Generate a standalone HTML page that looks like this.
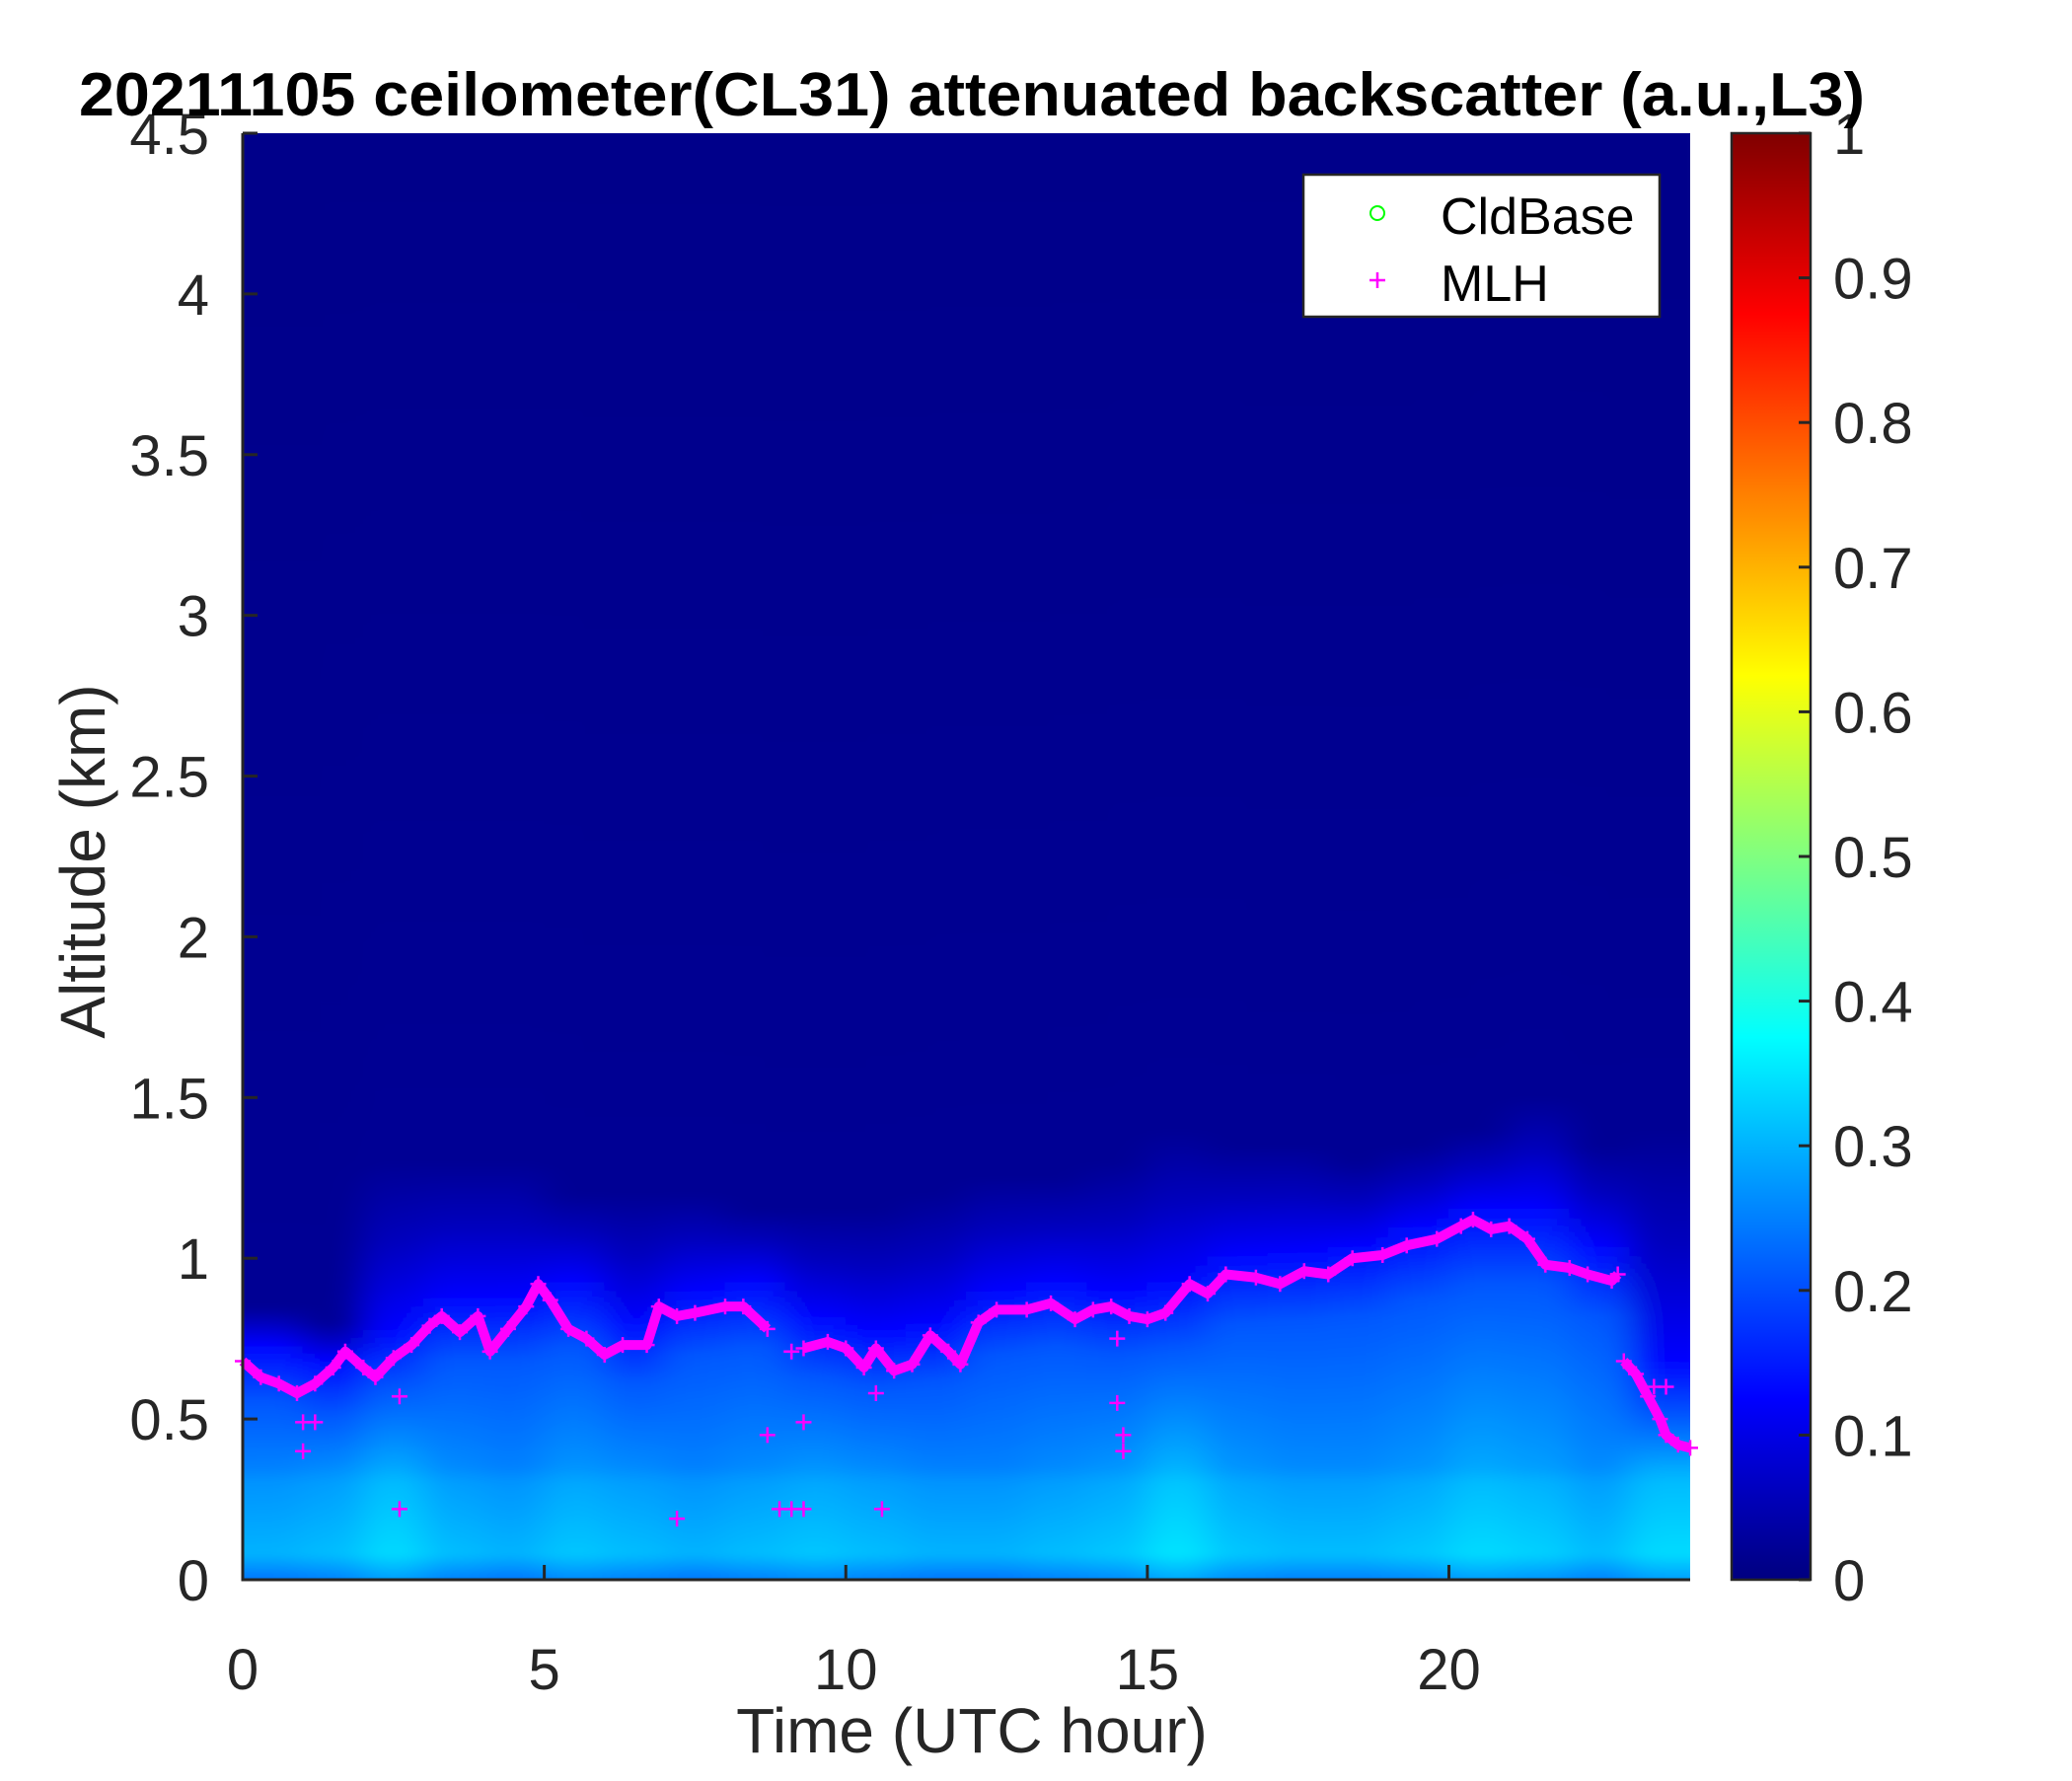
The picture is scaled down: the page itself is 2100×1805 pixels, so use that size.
<!DOCTYPE html>
<html><head><meta charset="utf-8"><style>
html,body{margin:0;padding:0;background:#fff;}
svg text{font-family:"Liberation Sans",Arial,sans-serif;}
</style></head><body>
<svg id="chart" width="2100" height="1800" viewBox="0 0 2100 1800" xmlns="http://www.w3.org/2000/svg">
<defs id="defs">
<filter id="blur" x="-5%" y="-5%" width="110%" height="110%"><feGaussianBlur stdDeviation="18 4"/></filter>
<clipPath id="plotclip"><rect x="246" y="135" width="1467" height="1466"/></clipPath>
</defs>
<g clip-path="url(#plotclip)"><g id="heat" filter="url(#blur)"></g></g>
<g id="marks"></g>
<g id="axes"></g>
</svg>
<script>
// ---- data ----
const hours = [0,1,2,3,4,5,6,7,8,9,10,11,12,13,14,15,16,17,18,19,20,21,22,23,24];
const surfVal = [0.30,0.31,0.34,0.31,0.30,0.32,0.31,0.30,0.31,0.32,0.31,0.30,0.30,0.31,0.32,0.35,0.32,0.31,0.31,0.32,0.34,0.33,0.31,0.34,0.35];
const bandTop = [0.65,0.6,0.7,0.8,0.8,0.85,0.72,0.82,0.85,0.74,0.7,0.72,0.82,0.85,0.82,0.85,0.93,0.94,0.96,1.02,1.08,1.08,0.96,0.6,0.42];
const topAlt = [0.85,0.8,1.3,1.3,1.3,1.2,1.2,1.2,1.15,1.15,1.15,1.2,1.25,1.25,1.3,1.4,1.35,1.35,1.3,1.35,1.4,1.5,1.35,1.4,1.5];
const mlhT = [0,0.3,0.6,0.9,1.2,1.5,1.7,2.0,2.2,2.5,2.8,3.1,3.3,3.6,3.9,4.1,4.4,4.7,4.9,5.1,5.4,5.7,6.0,6.3,6.7,6.9,7.2,7.5,8.0,8.3,8.7,9.3,9.7,10.0,10.3,10.5,10.8,11.1,11.4,11.7,11.9,12.2,12.5,13.0,13.4,13.8,14.1,14.4,14.7,15.0,15.3,15.7,16.0,16.3,16.8,17.2,17.6,18.0,18.4,18.9,19.3,19.8,20.2,20.4,20.7,21.0,21.3,21.6,22.0,22.3,22.7,22.8,22.9,23.1,23.3,23.5,23.6,23.8,24.0];
const mlhH = [0.68,0.63,0.61,0.58,0.61,0.66,0.71,0.66,0.63,0.69,0.73,0.79,0.82,0.77,0.82,0.71,0.78,0.85,0.92,0.87,0.78,0.75,0.70,0.73,0.73,0.85,0.82,0.83,0.85,0.85,0.78,0.72,0.74,0.72,0.66,0.72,0.65,0.67,0.76,0.71,0.67,0.80,0.84,0.84,0.86,0.81,0.84,0.85,0.82,0.81,0.83,0.92,0.89,0.95,0.94,0.92,0.96,0.95,1.00,1.01,1.04,1.06,1.10,1.12,1.09,1.10,1.06,0.98,0.97,0.95,0.93,0.95,0.68,0.64,0.57,0.50,0.45,0.42,0.41];
const mlhBreakAfter = [8.7, 22.8];
const strayT = [1.0,1.0,1.2,2.6,2.6,7.2,8.7,8.9,9.1,9.3,9.3,9.1,10.6,10.5,14.5,14.5,14.6,14.6,23.6,23.4];
const strayH = [0.40,0.49,0.49,0.22,0.57,0.19,0.45,0.22,0.22,0.22,0.49,0.71,0.22,0.58,0.55,0.75,0.40,0.45,0.60,0.60];
const xTicks = [0,5,10,15,20];
const yTicks = [0,0.5,1,1.5,2,2.5,3,3.5,4,4.5];
const cTicks = [0,0.1,0.2,0.3,0.4,0.5,0.6,0.7,0.8,0.9,1];

// ---- geometry ----
const L=246,R=1713,T=135,B=1601;
const X=h=>L+h/24*(R-L);
const Y=k=>B-k/4.5*(B-T);
const CL=1755,CR=1835;
const CY=v=>B-v*(B-T);
const NS="http://www.w3.org/2000/svg";
function jet(v){v=Math.max(0,Math.min(1,v));
 const f=x=>Math.round(255*Math.max(0,Math.min(1,x)));
 const r=f(Math.min(4*v-1.5,-4*v+4.5)),g=f(Math.min(4*v-0.5,-4*v+3.5)),b=f(Math.min(4*v+0.5,-4*v+2.5));
 return `rgb(${r},${g},${b})`;}
function mk(tag,attrs,parent){const e=document.createElementNS(NS,tag);for(const k in attrs)e.setAttribute(k,attrs[k]);parent.appendChild(e);return e;}
const defs=document.getElementById('defs'),heat=document.getElementById('heat'),marks=document.getElementById('marks'),axes=document.getElementById('axes');

const bg=mk('rect',{x:L-40,y:T-40,width:R-L+80,height:B-T+80,fill:jet(0.01)},heat);



for(let i=0;i<hours.length-1;i++){
 const id='g'+i;
 const g=mk('linearGradient',{id:id,gradientUnits:'userSpaceOnUse',x1:0,y1:B,x2:0,y2:T},defs);
 const s=surfVal[i],m=bandTop[i],t=topAlt[i];
 const stops=[[0,s-0.06],[0.08,s],[0.3,s-0.03],[0.35,s-0.05],[Math.max(0.4,m*0.85),0.21],[m+0.08,0.13],[(m+t)/2+0.05,0.06],[t,0.02],[4.5,0.01]];
 stops.forEach(([k,v])=>mk('stop',{offset:k/4.5,'stop-color':jet(v)},g));
 const x0=i==0?L-40:X(hours[i]);
 const x1=i==hours.length-2?R+40:X(hours[i+1]);
 const r=mk('rect',{x:x0-0.5,y:T,width:x1-x0+1,height:B-T+40,fill:`url(#${id})`},heat);
 
 
}

let seg=[];
function flush(){if(seg.length>1){const p=mk('polyline',{points:seg.join(' '),fill:'none',stroke:'#ff00ff','stroke-width':10,'stroke-linejoin':'round'},marks);
 
 }seg=[];}
mlhT.forEach((t,i)=>{seg.push(X(t)+','+Y(mlhH[i]));if(mlhBreakAfter.includes(t))flush();});
flush();
function plus(t,h){const x=X(t),y=Y(h);
 const p=mk('path',{d:`M${x-8},${y}H${x+8}M${x},${y-8}V${y+8}`,stroke:'#ff00ff','stroke-width':2.5},marks);
 
 }
mlhT.forEach((t,i)=>plus(t,mlhH[i]));
strayT.forEach((t,i)=>plus(t,strayH[i]));

const ax='#262626';
const fr=mk('path',{d:`M${L},${T}V${B}H${R}`,stroke:ax,'stroke-width':3,fill:'none'},axes);


xTicks.forEach(v=>{const x=X(v);
 const t=mk('path',{d:`M${x},${B}V${B-15}`,stroke:ax,'stroke-width':3},axes);
 
 
 const l=mk('text',{x:x,y:1712,'font-size':58,'text-anchor':'middle',fill:ax},axes);l.textContent=v;
 
 });
yTicks.forEach(v=>{const y=Y(v);
 const t=mk('path',{d:`M${L},${y}H${L+15}`,stroke:ax,'stroke-width':3},axes);
 
 
 const l=mk('text',{x:212,y:y+21,'font-size':58,'text-anchor':'end',fill:ax},axes);l.textContent=v;
 
 });

const cg=mk('linearGradient',{id:'cbar',x1:0,y1:1,x2:0,y2:0},defs);
for(let i=0;i<=64;i++)mk('stop',{offset:i/64,'stop-color':jet(i/64)},cg);
const cb=mk('rect',{x:CL,y:T,width:CR-CL,height:B-T,fill:'url(#cbar)',stroke:ax,'stroke-width':2.5},axes);


cTicks.forEach(v=>{const y=CY(v);
 const t=mk('path',{d:`M${CR},${y}H${CR-12}`,stroke:ax,'stroke-width':3},axes);
 
 
 const l=mk('text',{x:1858,y:y+21,'font-size':58,fill:ax},axes);l.textContent=v;
 
 });
</script>
<svg width="2100" height="1800" style="position:absolute;left:0;top:0" xmlns="http://www.w3.org/2000/svg">
<text x="985" y="117" font-size="62" font-weight="bold" text-anchor="middle" fill="#000" textLength="1810" lengthAdjust="spacingAndGlyphs">20211105 ceilometer(CL31) attenuated backscatter (a.u.,L3)</text>
<text x="985" y="1776" font-size="64" text-anchor="middle" fill="#262626">Time (UTC hour)</text>
<text transform="translate(106,873) rotate(-90)" font-size="64" text-anchor="middle" fill="#262626">Altitude (km)</text>
<g>
<rect x="1321" y="177" width="361" height="144" fill="#fff" stroke="#262626" stroke-width="2.5"/>
<circle cx="1396" cy="216" r="7" fill="none" stroke="#00ff00" stroke-width="2"/>
<text x="1460" y="237" font-size="52" fill="#000">CldBase</text>
<path d="M1388,284H1404M1396,276V292" stroke="#ff00ff" stroke-width="2.5"/>
<text x="1460" y="305" font-size="52" fill="#000">MLH</text>
</g>
</svg>
</body></html>
